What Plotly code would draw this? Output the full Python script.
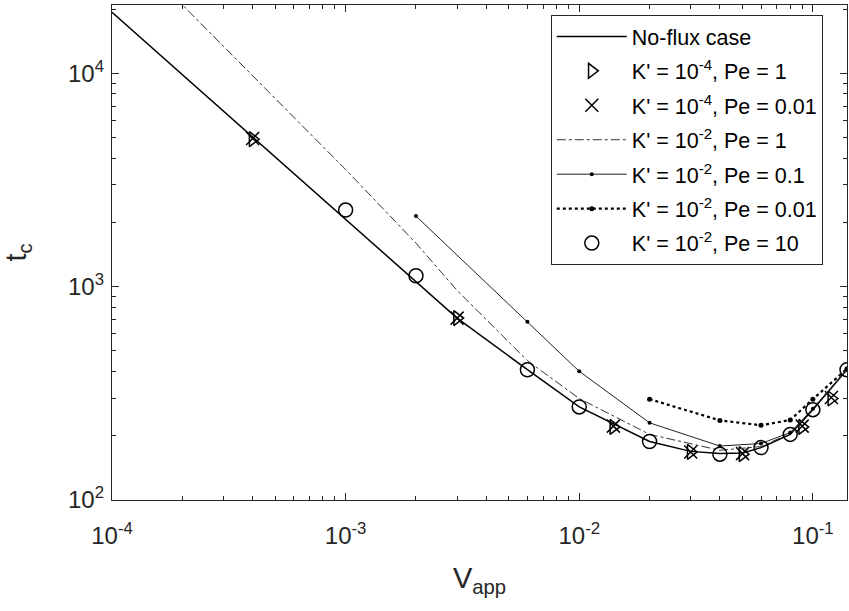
import numpy as np
import plotly.graph_objects as go

# ---------------- data ----------------
v_noflux = [1e-4, 1e-3, 2e-3, 3e-3, 6e-3, 1e-2, 2e-2, 3e-2, 4e-2, 5e-2, 6e-2, 8e-2, 0.1, 0.14]
t_noflux = [19300, 2070, 1064, 712, 408, 273, 188, 169, 165, 166, 176, 203, 265, 408]

v_k4 = [4e-4, 3e-3, 1.4e-2, 3e-2, 5e-2, 9e-2, 0.12]
t_k4_pe1 = [4910, 712, 220, 168, 164, 220, 299]
t_k4_pe001 = [4950, 712, 222, 168, 165, 222, 302]

v_k2_pe1 = [1e-4, 2e-4, 1e-3, 2e-3, 3e-3, 6e-3, 1e-2, 2e-2, 4e-2, 6e-2, 8e-2, 0.1, 0.14]
t_k2_pe1 = [45000, 21000, 3540, 1600, 960, 450, 299, 203, 171, 178, 205, 268, 410]

v_k2_pe01 = [2e-3, 6e-3, 1e-2, 2e-2, 4e-2, 6e-2, 8e-2, 0.1, 0.14]
t_k2_pe01 = [2142, 684, 401, 230, 179, 184, 207, 268, 410]

v_k2_pe001 = [2e-2, 4e-2, 6e-2, 8e-2, 0.1, 0.14]
t_k2_pe001 = [297, 236, 224, 237, 297, 412]

v_k2_pe10 = [1e-3, 2e-3, 6e-3, 1e-2, 2e-2, 4e-2, 6e-2, 8e-2, 0.1, 0.14]
t_k2_pe10 = [2285, 1125, 408, 273, 188, 164, 176, 203, 265, 408]

x_major = [1e-4, 1e-3, 1e-2, 1e-1]
x_major_text = ["10<sup>-4</sup>", "10<sup>-3</sup>", "10<sup>-2</sup>", "10<sup>-1</sup>"]
y_major = [1e2, 1e3, 1e4]
y_major_text = ["10<sup>2</sup>", "10<sup>3</sup>", "10<sup>4</sup>"]

labels = ["No-flux case",
          "K' = 10<sup>-4</sup>, Pe = 1",
          "K' = 10<sup>-4</sup>, Pe = 0.01",
          "K' = 10<sup>-2</sup>, Pe = 1",
          "K' = 10<sup>-2</sup>, Pe = 0.1",
          "K' = 10<sup>-2</sup>, Pe = 0.01",
          "K' = 10<sup>-2</sup>, Pe = 10"]

# ---------------- figure ----------------
FONT = "Liberation Sans, Arial, Helvetica, sans-serif"
AX = "#262626"

fig = go.Figure()
fig.add_trace(go.Scatter(x=v_noflux, y=t_noflux, mode="lines", name=labels[0], legendgroup="g0",
                         line=dict(color="black", width=1.5)))
fig.add_trace(go.Scatter(x=v_k4, y=t_k4_pe1, mode="markers", name=labels[1], legendgroup="g1",
                         marker=dict(symbol="triangle-right-open", size=13, color="black",
                                     line=dict(width=1.5, color="black"))))
fig.add_trace(go.Scatter(x=v_k4, y=t_k4_pe001, mode="markers", name=labels[2], legendgroup="g2",
                         marker=dict(symbol="x-thin-open", size=13, color="black",
                                     line=dict(width=1.5, color="black"))))
fig.add_trace(go.Scatter(x=v_k2_pe1, y=t_k2_pe1, mode="lines", name=labels[3], legendgroup="g3",
                         line=dict(color="#333333", width=1, dash="dashdot")))
fig.add_trace(go.Scatter(x=v_k2_pe01, y=t_k2_pe01, mode="lines+markers", name=labels[4], legendgroup="g4",
                         line=dict(color="#222222", width=1),
                         marker=dict(symbol="circle", size=4, color="black")))
fig.add_trace(go.Scatter(x=v_k2_pe001, y=t_k2_pe001, mode="lines+markers", name=labels[5], legendgroup="g5",
                         line=dict(color="black", width=2.2, dash="dot"),
                         marker=dict(symbol="circle", size=5, color="black")))
fig.add_trace(go.Scatter(x=v_k2_pe10, y=t_k2_pe10, mode="markers", name=labels[6], legendgroup="g6",
                         marker=dict(symbol="circle-open", size=14, color="black",
                                     line=dict(width=1.5, color="black"))))

x_minor = [m * 10.0**e for e in range(-4, 0) for m in range(2, 10) if m * 10.0**e <= 0.14]
y_minor = [m * 10.0**e for e in range(2, 5) for m in range(2, 10) if m * 10.0**e <= 21000]

axis_common = dict(type="log", showgrid=False, zeroline=False, showline=True,
                   linecolor=AX, linewidth=1.3, mirror="allticks",
                   ticks="inside", ticklen=7, tickwidth=1, tickcolor=AX,
                   tickfont=dict(family=FONT, size=24, color=AX))

fig.update_xaxes(**axis_common, range=[-4, np.log10(0.14)],
                 tickvals=x_major, ticktext=x_major_text, ticklabelstandoff=14,
                 minor=dict(tickvals=x_minor, ticks="inside", ticklen=4, tickcolor=AX, showgrid=False),
                 title=dict(text="V<sub>app</sub>", font=dict(family=FONT, size=29, color=AX), standoff=19))
fig.update_yaxes(**axis_common, range=[2, 4.32],
                 tickvals=y_major, ticktext=y_major_text, ticklabelstandoff=2,
                 minor=dict(tickvals=y_minor, ticks="inside", ticklen=4, tickcolor=AX, showgrid=False),
                 title=dict(text="t<sub>c</sub>", font=dict(family=FONT, size=29, color=AX), standoff=32))

fig.update_layout(
    width=849, height=611,
    margin=dict(l=112, r=2, t=5, b=111),
    paper_bgcolor="white", plot_bgcolor="white",
    font=dict(family=FONT, color="black"),
    showlegend=True,
    legend=dict(x=0.597, y=0.98, xanchor="left", yanchor="top",
                bgcolor="white", bordercolor=AX, borderwidth=1,
                font=dict(family=FONT, size=21.5, color="black"),
                itemwidth=70, tracegroupgap=3.5),
)

fig.write_html("out.html")
